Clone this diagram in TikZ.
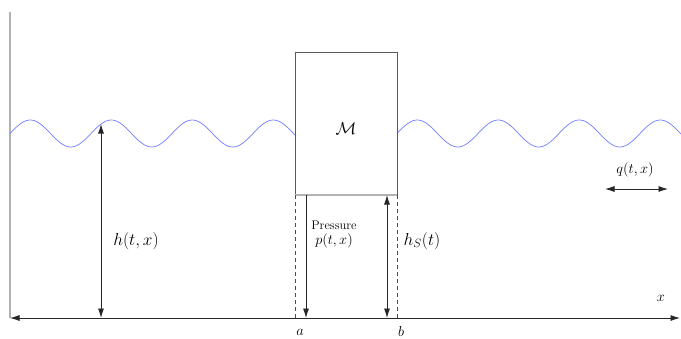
\documentclass[tikz,border=0pt]{standalone}
\usetikzlibrary{arrows.meta}
\begin{document}
\begin{tikzpicture}[x=1pt,y=-1pt,
  thinline/.style={line width=0.8pt, black!85},
  arr/.style={thinline, -{Latex[length=9.5pt,width=6pt]}},
  darr/.style={thinline, {Latex[length=9.5pt,width=6pt]}-{Latex[length=9.5pt,width=6pt]}},
  wave/.style={line width=0.7pt, color={rgb,255:red,110;green,125;blue,255}},
  dash line/.style={line width=0.6pt, black!70, dash pattern=on 4pt off 3pt},
  biglab/.style={font=\fontsize{17}{20}\selectfont, inner sep=0pt},
  midlab/.style={font=\fontsize{14.5}{17}\selectfont, inner sep=0pt},
  boxst/.style={draw=black!65, line width=0.7pt, inner sep=0pt, outer sep=0pt}]
\useasboundingbox (0,0) rectangle (681,338);
% axes
\coordinate (O) at (10,318);
\coordinate (E) at (680,318);
\coordinate (T) at (10,12);
\draw[line width=1.4pt, black!30] (O) -- (T);
\draw[darr] (O) -- (E);
% waves
\draw[wave] plot[domain=10:295, samples=120] (\x, {133.5 - 13.5*sin(4.4444*(\x-10))});
\draw[wave] plot[domain=397:681, samples=120] (\x, {133.5 - 13.5*sin(4.4444*(\x-397))});
% box
\node[boxst, minimum width=102pt, minimum height=143pt] (box) at (346,123.5) {};
\draw[line width=1.3pt, black!30] (box.south west) -- (box.south east);
\node[biglab] (M) at (346,129) {$\mathcal{M}$};
% dashed walls
\coordinate (aw) at (box.south west |- O);
\coordinate (bw) at (box.south east |- O);
\draw[dash line] (box.south west) -- (aw);
\draw[dash line] (box.south east) -- (bw);
% pressure arrow
\coordinate (p1) at (306,195);
\coordinate (p2) at (306,318);
\draw[arr] (p1) -- (p2);
\node[inner sep=0pt, align=center, font=\fontsize{12.5}{16}\selectfont] (P) at (334,235) {Pressure\\[-1pt]{\fontsize{14.5}{17}\selectfont$p(t,x)$}};
% hS arrow
\coordinate (s1) at (387,195);
\coordinate (s2) at (387,318);
\draw[darr] (s1) -- (s2);
\node[biglab] (hS) at (422,241) {$h_S(t)$};
% h arrow
\coordinate (h1) at (101,124);
\coordinate (h2) at (101,318);
\draw[darr] (h2) -- (h1);
\node[biglab] (h) at (136,241) {$h(t,x)$};
% labels
\node[midlab] (a) at (300,332) {$a$};
\node[midlab] (b) at (401,331) {$b$};
\node[midlab] (x) at (661,298) {$x$};
% q arrow
\coordinate (q1) at (605,189);
\coordinate (q2) at (668,189);
\draw[darr] (q1) -- (q2);
\node[midlab] (q) at (635,170) {$q(t,x)$};
\end{tikzpicture}
\end{document}
